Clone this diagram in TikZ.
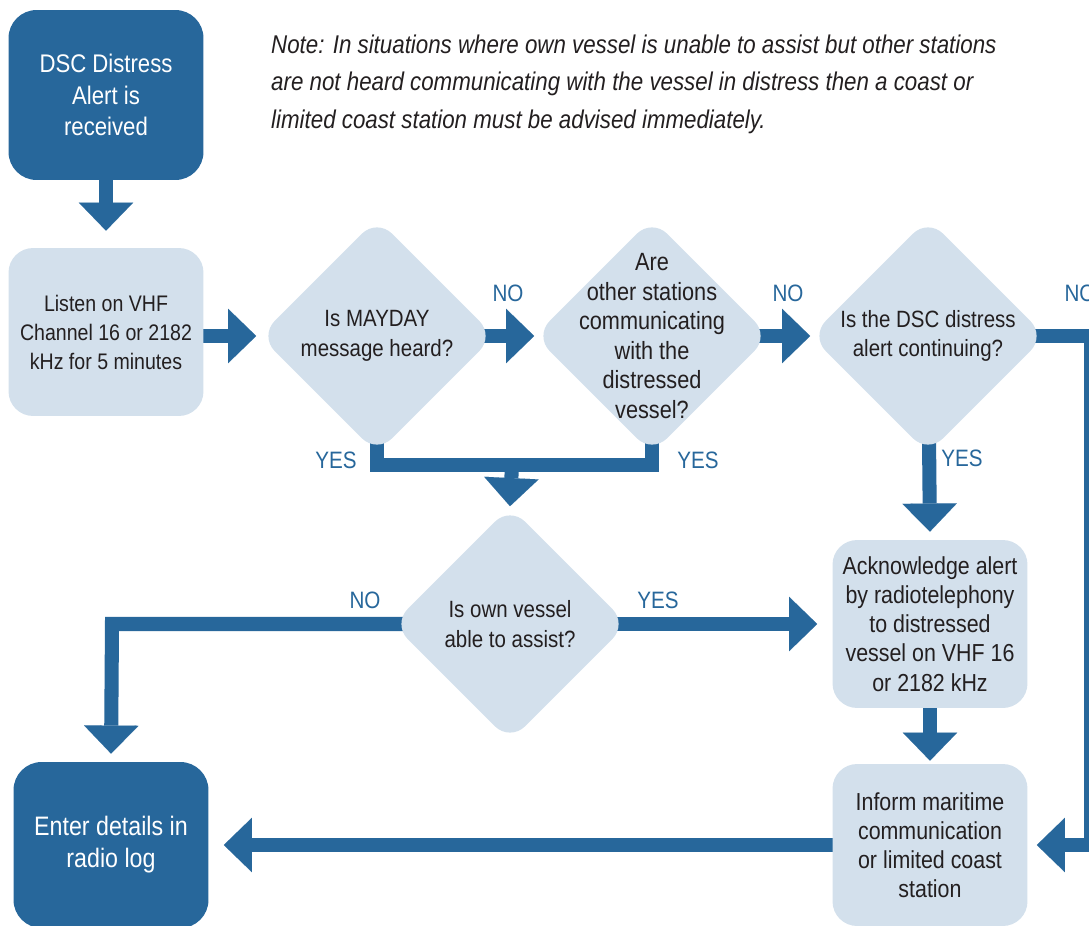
\documentclass[tikz,border=0pt]{standalone}
\usepackage{fontspec}
\setmainfont{Liberation Sans}[FakeStretch=0.87]
\usetikzlibrary{positioning}
\usetikzlibrary{shapes.geometric}
\usetikzlibrary{arrows.meta}
\definecolor{seablue}{RGB}{39,103,155}
\definecolor{palesea}{RGB}{211,224,236}
\definecolor{inkgrey}{RGB}{35,31,32}
\pgfdeclarelayer{back}
\pgfsetlayers{back,main}
\tikzset{
	darkbox/.style = {fill=seablue, text=white, rounded corners=16pt, minimum width=3.9cm, align=center, font=\fontsize{14.5}{18}\selectfont},
	lightbox/.style = {fill=palesea, text=inkgrey, rounded corners=14pt, minimum width=3.9cm, align=center, font=\fontsize{12.8}{16.5}\selectfont},
	query/.style = {diamond, fill=palesea, rounded corners=12pt, minimum width=4.7cm, minimum height=4.7cm, inner sep=0pt},
	querytext/.style = {text=inkgrey, align=center, font=\fontsize{13.4}{16.8}\selectfont},
	flow/.style = {draw=seablue, line width=8pt, -{Triangle[width=31pt,length=16pt,line width=0.01pt]}},
	flowline/.style = {draw=seablue, line width=8pt},
	answer/.style = {text=seablue, font=\fontsize{13.5}{16}\selectfont}
}

\begin{document}
\begin{tikzpicture}[x=0.02cm, y=-0.02cm]
			\useasboundingbox (0,0) rectangle (1089,926);
			\node[darkbox, minimum height=3.4cm] (start) at (106,95) {DSC Distress\\Alert is\\received};
			\node[lightbox, minimum height=3.36cm] (listen) at (106,332) {Listen on VHF\\Channel 16 or 2182\\kHz for 5 minutes};
			\node[query] (d1) at (377,336) {};
			\node[querytext] (t1) at (d1) {Is MAYDAY\\message heard?};
			\node[query] (d2) at (652,336) {};
			\node[querytext, font=\fontsize{14.2}{16.8}\selectfont] (t2) at (d2) {Are\\other stations\\communicating\\with the\\distressed\\vessel?};
			\node[query] (d3) at (928,336) {};
			\node[querytext] (t3) at (d3) {Is the DSC distress\\alert continuing?};
			\node[query] (d4) at (510,624) {};
			\node[querytext] (t4) at (d4) {Is own vessel\\able to assist?};
			\node[lightbox, minimum height=3.36cm, font=\fontsize{14}{16.6}\selectfont] (ack) at (930,624) {Acknowledge alert\\by radiotelephony\\to distressed\\vessel on VHF 16\\or 2182 kHz};
			\node[lightbox, minimum height=3.24cm, font=\fontsize{14}{16.6}\selectfont] (inform) at (930,845) {Inform maritime\\communication\\or limited coast\\station};
			\node[darkbox, minimum height=3.32cm, font=\fontsize{15.2}{18.2}\selectfont] (enter) at (111,845) {Enter details in\\radio log};
			\node[anchor=west, align=left, text=inkgrey, font=\fontsize{14.6}{21.3}\selectfont\itshape] (note) at (265,84) {Note: In situations where own vessel is unable to assist but other stations\\are not heard communicating with the vessel in distress then a coast or\\limited coast station must be advised immediately.};
			\coordinate (merge) at (512,465);
			\coordinate (edge) at (1091,336);
			\coordinate (leftbend) at (112,624);
			\begin{pgfonlayer}{back}
				\draw[flow, shorten >=0.34cm] (start.center) -- (listen.north);
				\draw[flow, shorten >=0.06cm] (listen.center |- d1) -- (d1.west);
				\draw[flow] (d1.center) -- (d2.west);
				\draw[flow] (d2.center) -- (d3.west);
				\draw[flow, shorten >=0.18cm] (d3.center) -- (edge) |- (inform.east);
				\draw[flowline] (d1.center) |- (merge) -| (d2.center);
				\draw[flow] (merge) -- (d4.north);
				\draw[flow, shorten >=0.16cm] (d4.center) -- (leftbend) -- (enter.north);
				\draw[flow, shorten >=0.3cm] (d4.center) -- (ack.west);
				\draw[flow, shorten >=0.16cm] (d3.center) -- (ack.north);
				\draw[flow, shorten >=0.06cm] (ack.center) -- (inform.north);
				\draw[flow, shorten >=0.3cm] (inform.center) -- (enter.east);
			\end{pgfonlayer}
			\node[answer] (no1) at (508,293) {NO};
			\node[answer] (no2) at (788,293) {NO};
			\node[answer] (no3) at (1080,293) {NO};
			\node[answer] (yes1) at (336,460) {YES};
			\node[answer] (yes2) at (698,460) {YES};
			\node[answer] (yes3) at (962,458) {YES};
			\node[answer] (no4) at (365,600) {NO};
			\node[answer] (yes4) at (658,600) {YES};
		\end{tikzpicture}
\end{document}
